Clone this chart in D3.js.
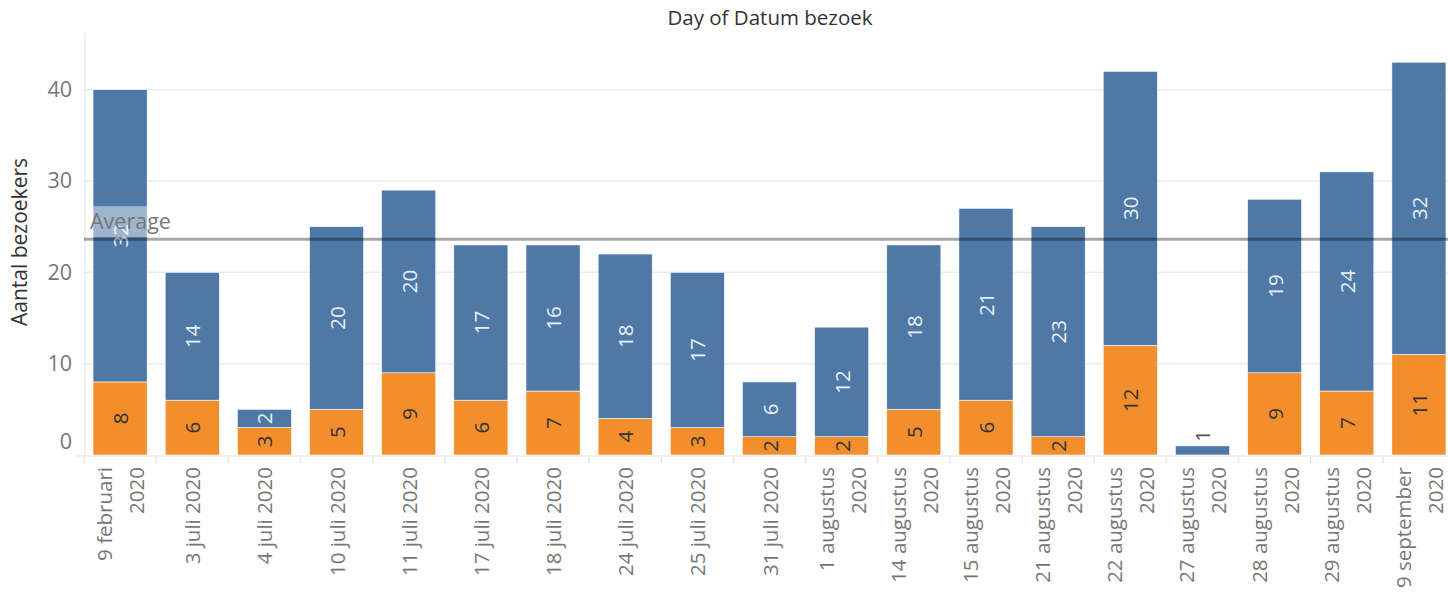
<!DOCTYPE html>
<html>
<head>
<meta charset="utf-8">
<script src="https://cdn.jsdelivr.net/npm/d3@7"></script>
<style>
  body { margin: 0; background: #fff; }
  svg { display: block; font-family: "Open Sans", "Noto Sans", sans-serif; }
</style>
</head>
<body>
<svg id="chart" width="1448" height="597"></svg>
<script>
const categories = ["9 februari 2020","3 juli 2020","4 juli 2020","10 juli 2020","11 juli 2020",
  "17 juli 2020","18 juli 2020","24 juli 2020","25 juli 2020","31 juli 2020","1 augustus 2020",
  "14 augustus 2020","15 augustus 2020","21 augustus 2020","22 augustus 2020","27 augustus 2020",
  "28 augustus 2020","29 augustus 2020","9 september 2020"];
const orangeValues = [8,6,3,5,9,6,7,4,3,2,2,5,6,2,12,0,9,7,11];
const blueValues   = [32,14,2,20,20,17,16,18,17,6,12,18,21,23,30,1,19,24,32];
const yTicks = [0,10,20,30,40];
const title = "Day of Datum bezoek";
const yTitle = "Aantal bezoekers";

const svg = d3.select("#chart");
const plotLeft = 84, plotRight = 1455, plotTop = 33, plotBottom = 455;

const x = d3.scaleBand().domain(categories).range([plotLeft, plotRight]).paddingInner(0.25).paddingOuter(0.125);
const y = d3.scaleLinear().domain([0, 46.2]).range([plotBottom, plotTop]);

const BLUE = "#4e79a7", ORANGE = "#f28e2b";

// title
svg.append("text").attr("x", 770).attr("y", 25).attr("text-anchor", "middle")
  .attr("font-size", 20.5).attr("fill", "#333").text(title);

// y title
svg.append("text").attr("transform", `translate(27,${242}) rotate(-90)`)
  .attr("text-anchor", "middle").attr("font-size", 21).attr("fill", "#333").text(yTitle);

// gridlines
svg.append("g").selectAll("line").data(yTicks.filter(d => d > 0)).join("line")
  .attr("x1", plotLeft).attr("x2", 1448).attr("y1", d => y(d)).attr("y2", d => y(d))
  .attr("stroke", "#ececec").attr("stroke-width", 1.5);

// y axis line
svg.append("line").attr("x1", plotLeft + 1).attr("x2", plotLeft + 1).attr("y1", plotTop).attr("y2", plotBottom)
  .attr("stroke", "#ececec").attr("stroke-width", 1.5);
// baseline
svg.append("line").attr("x1", 75).attr("x2", 1448).attr("y1", plotBottom + 1).attr("y2", plotBottom + 1)
  .attr("stroke", "#ececec").attr("stroke-width", 1.5);

// y axis via d3
const yAxis = d3.axisLeft(y).tickValues(yTicks).tickSize(0).tickPadding(0);
const gy = svg.append("g").attr("transform", `translate(72,0)`).call(yAxis);
gy.select(".domain").remove();
gy.selectAll("text").attr("font-size", 21.5).attr("fill", "#777").attr("font-family", "Open Sans, sans-serif")
  .attr("dy", d => d === 0 ? "-0.3em" : "0.32em");

// category dividers
const bounds = categories.map(c => x(c) - x.step() * x.paddingInner() / 2);
svg.append("g").selectAll("line").data(bounds).join("line")
  .attr("x1", d => d).attr("x2", d => d).attr("y1", plotBottom).attr("y2", plotBottom + 8)
  .attr("stroke", "#e6e6e6").attr("stroke-width", 1.5);

// bars
const data = categories.map((c, i) => ({c, o: orangeValues[i], b: blueValues[i]}));
const gb = svg.append("g");
gb.selectAll("rect.o").data(data.filter(d => d.o > 0)).join("rect")
  .attr("x", d => x(d.c)).attr("width", x.bandwidth())
  .attr("y", d => y(d.o)).attr("height", d => y(0) - y(d.o))
  .attr("fill", ORANGE).attr("stroke", "#fff").attr("stroke-width", 0.6);
gb.selectAll("rect.b").data(data).join("rect")
  .attr("x", d => x(d.c)).attr("width", x.bandwidth())
  .attr("y", d => y(d.o + d.b)).attr("height", d => y(d.o) - y(d.o + d.b))
  .attr("fill", BLUE).attr("stroke", "#fff").attr("stroke-width", 0.6);

// value labels
const gl = svg.append("g").attr("font-size", 20.5);
data.forEach(d => {
  const cx = x(d.c) + x.bandwidth() / 2;
  if (d.o > 0) {
    const cy = (y(0) + y(d.o)) / 2;
    gl.append("text").attr("transform", `translate(${cx},${cy}) rotate(-90)`)
      .attr("text-anchor", "middle").attr("dominant-baseline", "central")
      .attr("fill", "#333").text(d.o);
  }
  const segH = y(d.o) - y(d.o + d.b);
  if (segH >= 14) {
    const cy = (y(d.o) + y(d.o + d.b)) / 2;
    gl.append("text").attr("transform", `translate(${cx},${cy}) rotate(-90)`)
      .attr("text-anchor", "middle").attr("dominant-baseline", "central")
      .attr("fill", "#e9eef4").text(d.b);
  } else {
    const cy = y(d.o + d.b) - 10;
    gl.append("text").attr("transform", `translate(${cx},${cy}) rotate(-90)`)
      .attr("text-anchor", "middle").attr("dominant-baseline", "central")
      .attr("fill", "#555").text(d.b);
  }
});

// average line
const avg = d3.mean(data, d => d.o + d.b);
svg.append("line").attr("x1", plotLeft).attr("x2", 1448).attr("y1", y(avg)).attr("y2", y(avg))
  .attr("stroke", "#000").attr("stroke-opacity", 0.35).attr("stroke-width", 3);
svg.append("rect").attr("x", 88).attr("y", y(avg) - 33).attr("width", 88).attr("height", 31)
  .attr("fill", "#fff").attr("fill-opacity", 0.45);
svg.append("text").attr("x", 90).attr("y", y(avg) - 10).attr("font-size", 21.5)
  .attr("fill", "#777").text("Average");

// x labels
const gx = svg.append("g").attr("font-size", 20.5).attr("fill", "#777");
categories.forEach(c => {
  const cx = x(c) + x.bandwidth() / 2;
  let lines = [c];
  if (c.length > 12) {
    const k = c.lastIndexOf(" ");
    lines = [c.slice(0, k), c.slice(k + 1)];
  }
  const offs = lines.length === 1 ? [0] : [-16, 16];
  lines.forEach((t, i) => {
    gx.append("text").attr("transform", `translate(${cx + offs[i]},${467}) rotate(-90)`)
      .attr("text-anchor", "end").attr("dominant-baseline", "central").text(t);
  });
});
</script>
</body>
</html>
